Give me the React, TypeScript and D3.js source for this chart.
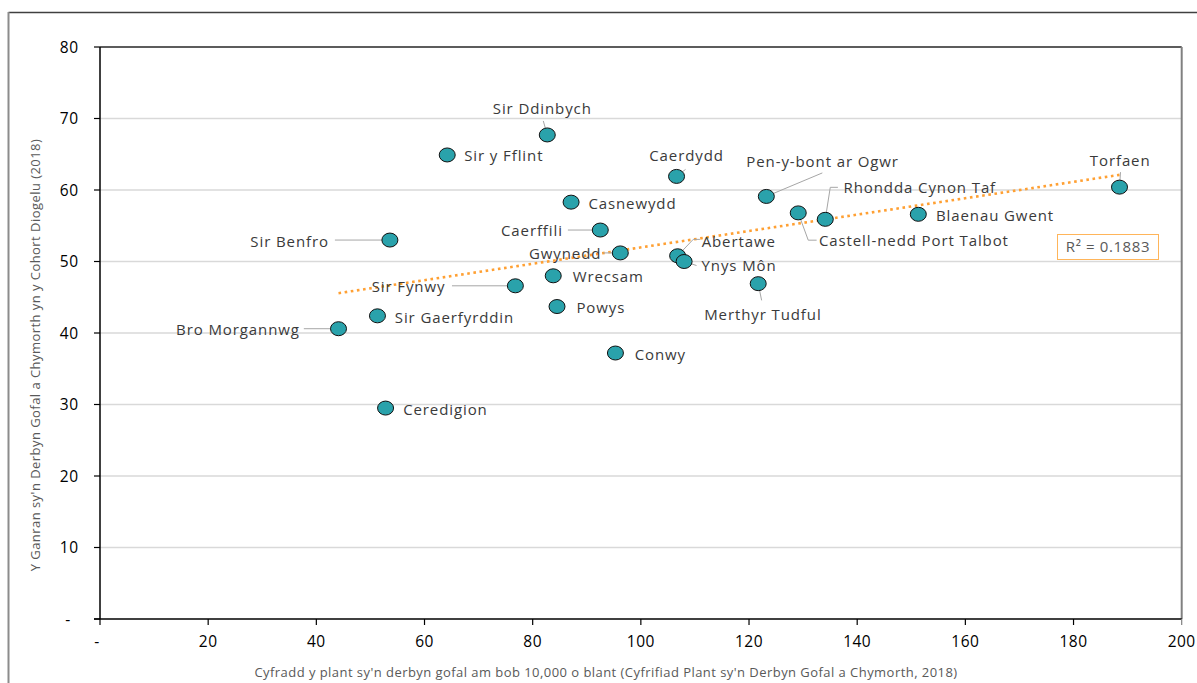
import React from "react";
import * as d3 from "d3";

// ---- Data ----
const names: string[] = [
  "Sir Ddinbych", "Sir y Fflint", "Caerdydd", "Pen-y-bont ar Ogwr", "Casnewydd",
  "Rhondda Cynon Taf", "Castell-nedd Port Talbot", "Blaenau Gwent", "Torfaen", "Caerffili",
  "Sir Benfro", "Gwynedd", "Abertawe", "Ynys Môn", "Wrecsam",
  "Sir Fynwy", "Merthyr Tudful", "Powys", "Sir Gaerfyrddin", "Bro Morgannwg",
  "Conwy", "Ceredigion",
];
const rateValues: number[] = [
  82.7, 64.2, 106.6, 123.2, 87.1,
  134.1, 129.1, 151.3, 188.5, 92.5,
  53.6, 96.2, 106.8, 108.0, 83.8,
  76.8, 121.7, 84.5, 51.3, 44.1,
  95.3, 52.8,
];
const pctValues: number[] = [
  67.7, 64.9, 61.9, 59.1, 58.3,
  55.9, 56.8, 56.6, 60.4, 54.4,
  53.0, 51.2, 50.8, 50.0, 48.0,
  46.6, 46.9, 43.7, 42.4, 40.6,
  37.2, 29.5,
];
const xTicks: number[] = [0, 20, 40, 60, 80, 100, 120, 140, 160, 180, 200];
const yTicks: number[] = [0, 10, 20, 30, 40, 50, 60, 70, 80];
const r2Text = "R² = 0.1883";
const xTitle =
  "Cyfradd y plant sy'n derbyn gofal am bob 10,000 o blant (Cyfrifiad Plant sy'n Derbyn Gofal a Chymorth, 2018)";
const yTitle = "Y Ganran sy'n Derbyn Gofal a Chymorth yn y Cohort Diogelu (2018)";

// ---- Label layout (pixel offsets from the marker) ----
type LL = { a: "start" | "middle" | "end"; dx: number; dy: number; leader?: [number, number][] };
const labelLayout: Record<string, LL> = {
  "Sir Ddinbych": { a: "middle", dx: -5, dy: -21, leader: [[0, 0], [-4, -14]] },
  "Sir y Fflint": { a: "start", dx: 17, dy: 6 },
  "Caerdydd": { a: "middle", dx: 10, dy: -15, leader: [[0, 0], [9, -7]] },
  "Pen-y-bont ar Ogwr": { a: "start", dx: -20, dy: -29.4, leader: [[0, 0], [56, -23.5]] },
  "Casnewydd": { a: "start", dx: 17.3, dy: 6.7 },
  "Rhondda Cynon Taf": { a: "start", dx: 18.3, dy: -26, leader: [[0, 0], [5, -32], [12.6, -32]] },
  "Castell-nedd Port Talbot": { a: "start", dx: 20.7, dy: 33, leader: [[0, 0], [10, 27.3], [18.4, 27.3]] },
  "Blaenau Gwent": { a: "start", dx: 17.7, dy: 6.7 },
  "Torfaen": { a: "middle", dx: 0.7, dy: -21.3, leader: [[0, 0], [1, -15]] },
  "Caerffili": { a: "end", dx: -37.4, dy: 6, leader: [[0, 0], [-32.4, 0]] },
  "Sir Benfro": { a: "end", dx: -61, dy: 6.5, leader: [[0, 0], [-55, 0]] },
  "Gwynedd": { a: "end", dx: -19, dy: 6.3, leader: [[0, 0], [-17, 0]] },
  "Abertawe": { a: "start", dx: 24, dy: -8.4, leader: [[0, 0], [15.6, -16.4], [22.3, -16.4]] },
  "Ynys Môn": { a: "start", dx: 17.4, dy: 9.3, leader: [[0, 0], [12.4, 4]] },
  "Wrecsam": { a: "start", dx: 19.4, dy: 6.6 },
  "Sir Fynwy": { a: "end", dx: -70, dy: 6.3, leader: [[0, 0], [-63.4, 0]] },
  "Merthyr Tudful": { a: "middle", dx: 4.7, dy: 36, leader: [[0, 0], [3.4, 16.7]] },
  "Powys": { a: "start", dx: 19.4, dy: 6.6 },
  "Sir Gaerfyrddin": { a: "start", dx: 17.3, dy: 7.3 },
  "Bro Morgannwg": { a: "end", dx: -38.7, dy: 6, leader: [[0, 0], [-34.7, 0]] },
  "Conwy": { a: "start", dx: 19.3, dy: 6.6 },
  "Ceredigion": { a: "start", dx: 17.6, dy: 6.7 },
};

const W = 1197;
const H = 683;
const FONT = "'Open Sans', 'DejaVu Sans', sans-serif";

export default function App() {
  const x = d3.scaleLinear().domain([0, 200]).range([100, 1181.7]);
  const y = d3.scaleLinear().domain([0, 80]).range([619, 47]);

  const pts = names.map((n, i) => ({ name: n, x: rateValues[i], y: pctValues[i] }));

  // least squares trendline
  const mx = d3.mean(rateValues) as number;
  const my = d3.mean(pctValues) as number;
  let sxy = 0, sxx = 0;
  rateValues.forEach((v, i) => {
    sxy += (v - mx) * (pctValues[i] - my);
    sxx += (v - mx) * (v - mx);
  });
  const slope = sxy / sxx;
  const icpt = my - slope * mx;
  const [x0, x1] = d3.extent(rateValues) as [number, number];
  const trend = d3.line<number>().x((v) => x(v)).y((v) => y(icpt + slope * v))([x0, x1]) as string;

  const lineGen = d3.line<[number, number]>();

  return (
    <svg width={W} height={H} style={{ position: "absolute", left: 0, top: 0, background: "#fff" }}>
      {/* outer chart border */}
      <line x1={8.5} y1={12.5} x2={W} y2={12.5} stroke="#404040" strokeWidth={1.5} />
      <line x1={8.5} y1={12} x2={8.5} y2={H} stroke="#8c8c8c" strokeWidth={2} />

      {/* gridlines */}
      {yTicks.filter((t) => t !== 0 && t !== 80).map((t) => (
        <line key={"g" + t} x1={x(0)} x2={x(200)} y1={y(t)} y2={y(t)} stroke="#D9D9D9" strokeWidth={1.5} />
      ))}

      {/* plot border top/right */}
      <line x1={x(0)} x2={x(200)} y1={y(80)} y2={y(80)} stroke="#262626" strokeWidth={1.5} />
      <line x1={x(200)} x2={x(200)} y1={y(80)} y2={y(0)} stroke="#808080" strokeWidth={2} />

      {/* axes */}
      <line x1={x(0)} x2={x(0)} y1={y(80)} y2={y(0)} stroke="#000" strokeWidth={1.5} />
      <line x1={x(0) - 6} x2={x(200)} y1={y(0)} y2={y(0)} stroke="#000" strokeWidth={1.5} />
      {yTicks.map((t) => (
        <line key={"yt" + t} x1={x(0) - 6} x2={x(0)} y1={y(t)} y2={y(t)} stroke="#000" strokeWidth={1.2} />
      ))}
      {xTicks.map((t) => (
        <line key={"xt" + t} x1={x(t)} x2={x(t)} y1={y(0)} y2={y(0) + 6} stroke={t === 200 ? "#808080" : "#000"} strokeWidth={1.2} />
      ))}

      {/* tick labels */}
      {yTicks.map((t) => (
        <text key={"yl" + t} x={t === 0 ? 68 : 78.5} y={y(t) + 5.5} textAnchor={t === 0 ? "middle" : "end"}
          fontFamily={FONT} fontSize={15.5} fill="#000" letterSpacing={0.5}>
          {t === 0 ? "-" : t}
        </text>
      ))}
      {xTicks.map((t) => (
        <text key={"xl" + t} x={x(t) + (t === 0 ? -3 : 0)} y={646.7} textAnchor="middle"
          fontFamily={FONT} fontSize={15.5} fill="#000" letterSpacing={0.5}>
          {t === 0 ? "-" : t}
        </text>
      ))}

      {/* axis titles */}
      <text x={606} y={677} textAnchor="middle" fontFamily={FONT} fontSize={13} fill="#595959" letterSpacing={0.45}>
        {xTitle}
      </text>
      <text transform={`translate(39.5, 355) rotate(-90)`} textAnchor="middle" fontFamily={FONT} fontSize={13} fill="#595959" letterSpacing={0.45}>
        {yTitle}
      </text>

      {/* trendline */}
      <path d={trend} fill="none" stroke="#FFA033" strokeWidth={2.6} strokeDasharray="2.6 3.6" strokeLinecap="butt" />

      {/* leader lines */}
      {pts.map((p) => {
        const L = labelLayout[p.name];
        if (!L || !L.leader) return null;
        const px = x(p.x), py = y(p.y);
        return (
          <path key={"ld" + p.name} d={lineGen(L.leader.map(([a, b]) => [px + a, py + b] as [number, number])) as string}
            fill="none" stroke="#A6A6A6" strokeWidth={1} />
        );
      })}

      {/* markers */}
      {pts.map((p) => (
        <ellipse key={"m" + p.name} cx={x(p.x)} cy={y(p.y)} rx={8} ry={7} fill="#2AA2AB" stroke="#111" strokeWidth={1} />
      ))}

      {/* labels */}
      {pts.map((p) => {
        const L = labelLayout[p.name];
        return (
          <text key={"t" + p.name} x={x(p.x) + L.dx} y={y(p.y) + L.dy} textAnchor={L.a}
            fontFamily={FONT} fontSize={15} fill="#3a3a3a" letterSpacing={0.9}>
            {p.name}
          </text>
        );
      })}

      {/* R² box */}
      <rect x={1057.5} y={234.5} width={101} height={25} fill="#fff" stroke="#FFB55A" strokeWidth={1} />
      <text x={1108} y={251.7} textAnchor="middle" fontFamily={FONT} fontSize={15} fill="#595959" letterSpacing={0.6}>
        {r2Text}
      </text>
    </svg>
  );
}
